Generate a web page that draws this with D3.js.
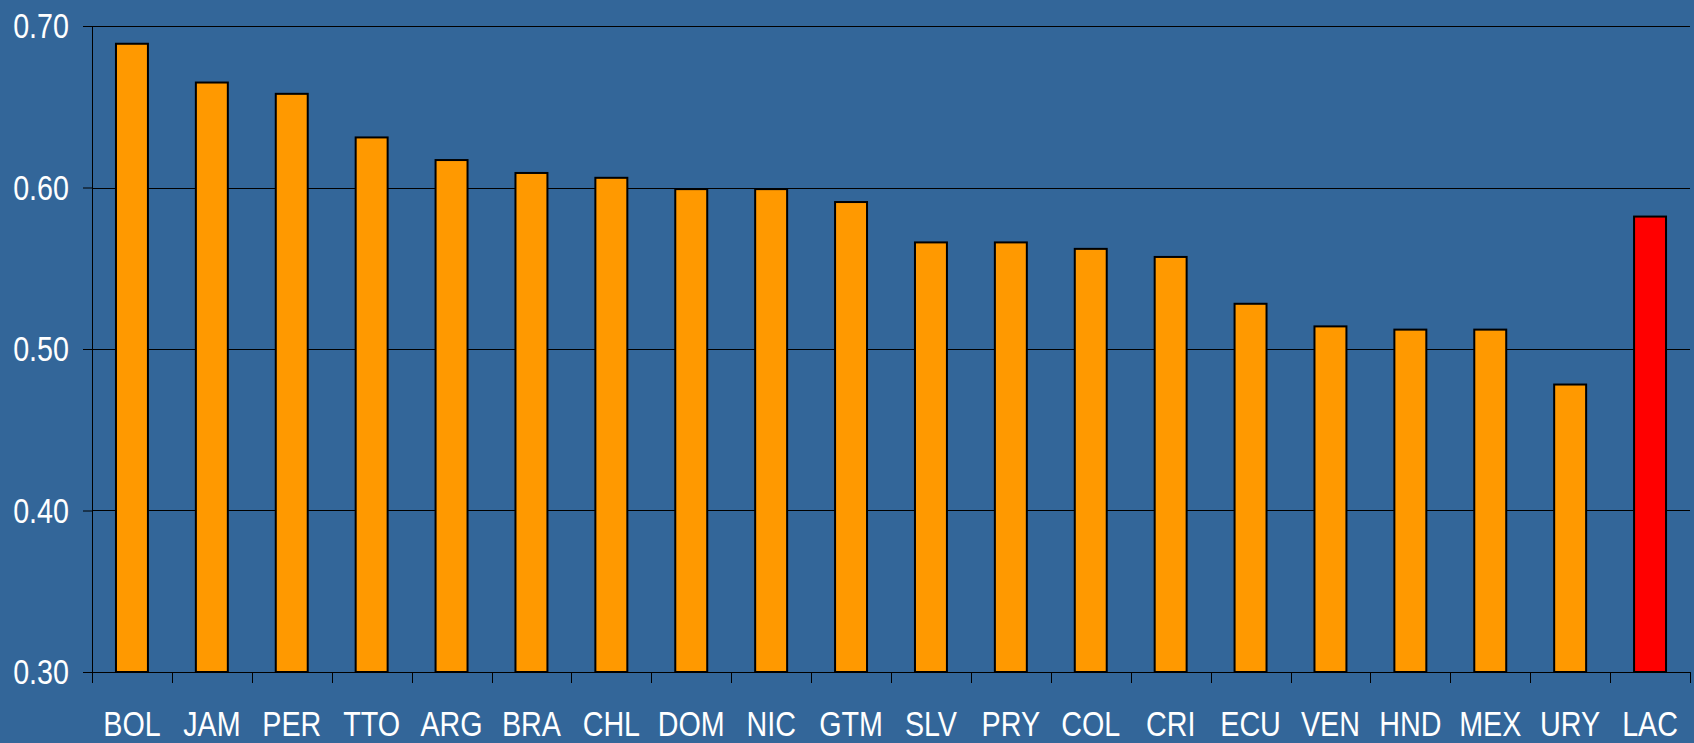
<!DOCTYPE html>
<html>
<head>
<meta charset="utf-8">
<script src="https://cdn.jsdelivr.net/npm/d3@7"></script>
<style>
  html, body { margin: 0; padding: 0; background: #336699; }
  svg { display: block; }
  text { font-family: "Liberation Sans", Arial, sans-serif; fill: #fff; }
</style>
</head>
<body>
<svg></svg>
<script>
var categories = ["BOL","JAM","PER","TTO","ARG","BRA","CHL","DOM","NIC","GTM","SLV","PRY","COL","CRI","ECU","VEN","HND","MEX","URY","LAC"];
var values = [0.689,0.665,0.658,0.631,0.617,0.609,0.606,0.599,0.599,0.591,0.566,0.566,0.562,0.557,0.528,0.514,0.512,0.512,0.478,0.582];
var yTicks = [0.30,0.40,0.50,0.60,0.70];

var svg_width = 1694, svg_height = 743;
var margin = {top: 26, right: 4, bottom: 71, left: 92};
var width = svg_width - margin.left - margin.right,
    height = svg_height - margin.top - margin.bottom;
var squeeze = 0.82; // narrow font look

var svg = d3.select("svg")
            .attr("width", svg_width)
            .attr("height", svg_height);

svg.append("rect")
   .attr("width", svg_width)
   .attr("height", svg_height)
   .attr("fill", "#336699");

var g = svg.append("g").attr("transform", "translate(" + margin.left + "," + margin.top + ")");

var x = d3.scaleBand()
          .domain(categories)
          .range([0, width])
          .paddingInner(0.6)
          .paddingOuter(0.3);

var y = d3.scaleLinear()
          .domain([0.30, 0.70])
          .range([height, 0]);

// gridlines
g.selectAll(".grid")
  .data(yTicks.slice(1))
  .enter()
  .append("line")
  .attr("x1", 0)
  .attr("x2", width)
  .attr("y1", function(d){ return Math.round(y(d)) + 0.5; })
  .attr("y2", function(d){ return Math.round(y(d)) + 0.5; })
  .attr("stroke", "#000")
  .attr("stroke-width", 1);

// y axis
var yAxis = g.append("g")
  .call(d3.axisLeft(y).tickValues(yTicks).tickSize(9).tickFormat(d3.format(".2f")));
yAxis.select(".domain").remove();
yAxis.selectAll(".tick line").attr("stroke", "#000");
yAxis.selectAll(".tick text")
  .attr("x", -23 / squeeze)
  .attr("dy", "0.34em")
  .attr("transform", "scale(" + squeeze + ",1)")
  .style("font-size", "35px")
  .attr("fill", "#fff");

g.append("line")
  .attr("x1", 0.5).attr("x2", 0.5)
  .attr("y1", 0).attr("y2", height)
  .attr("stroke", "#000");

// bars
g.selectAll(".bar")
  .data(values)
  .enter()
  .append("rect")
  .attr("x", function(d, i){ return x(categories[i]); })
  .attr("y", function(d){ return y(d); })
  .attr("width", x.bandwidth())
  .attr("height", function(d){ return height - y(d); })
  .attr("fill", function(d, i){ return categories[i] === "LAC" ? "#ff0000" : "#ff9900"; })
  .attr("stroke", "#000")
  .attr("stroke-width", 2);

// x axis
var step = x.step();
var xg = g.append("g").attr("transform", "translate(0," + height + ")");
xg.append("line")
  .attr("x1", -9).attr("x2", width)
  .attr("y1", 0.5).attr("y2", 0.5)
  .attr("stroke", "#000");
xg.selectAll(".xtick")
  .data(d3.range(categories.length + 1))
  .enter()
  .append("line")
  .attr("x1", function(i){ return Math.round(i * step) + 0.5; })
  .attr("x2", function(i){ return Math.round(i * step) + 0.5; })
  .attr("y1", 0)
  .attr("y2", 11)
  .attr("stroke", "#000");
xg.selectAll(".xlabel")
  .data(categories)
  .enter()
  .append("text")
  .attr("transform", function(d){ return "translate(" + (x(d) + x.bandwidth() / 2) + ",64) scale(" + squeeze + ",1)"; })
  .attr("text-anchor", "middle")
  .style("font-size", "35px")
  .text(function(d){ return d; });
</script>
</body>
</html>
